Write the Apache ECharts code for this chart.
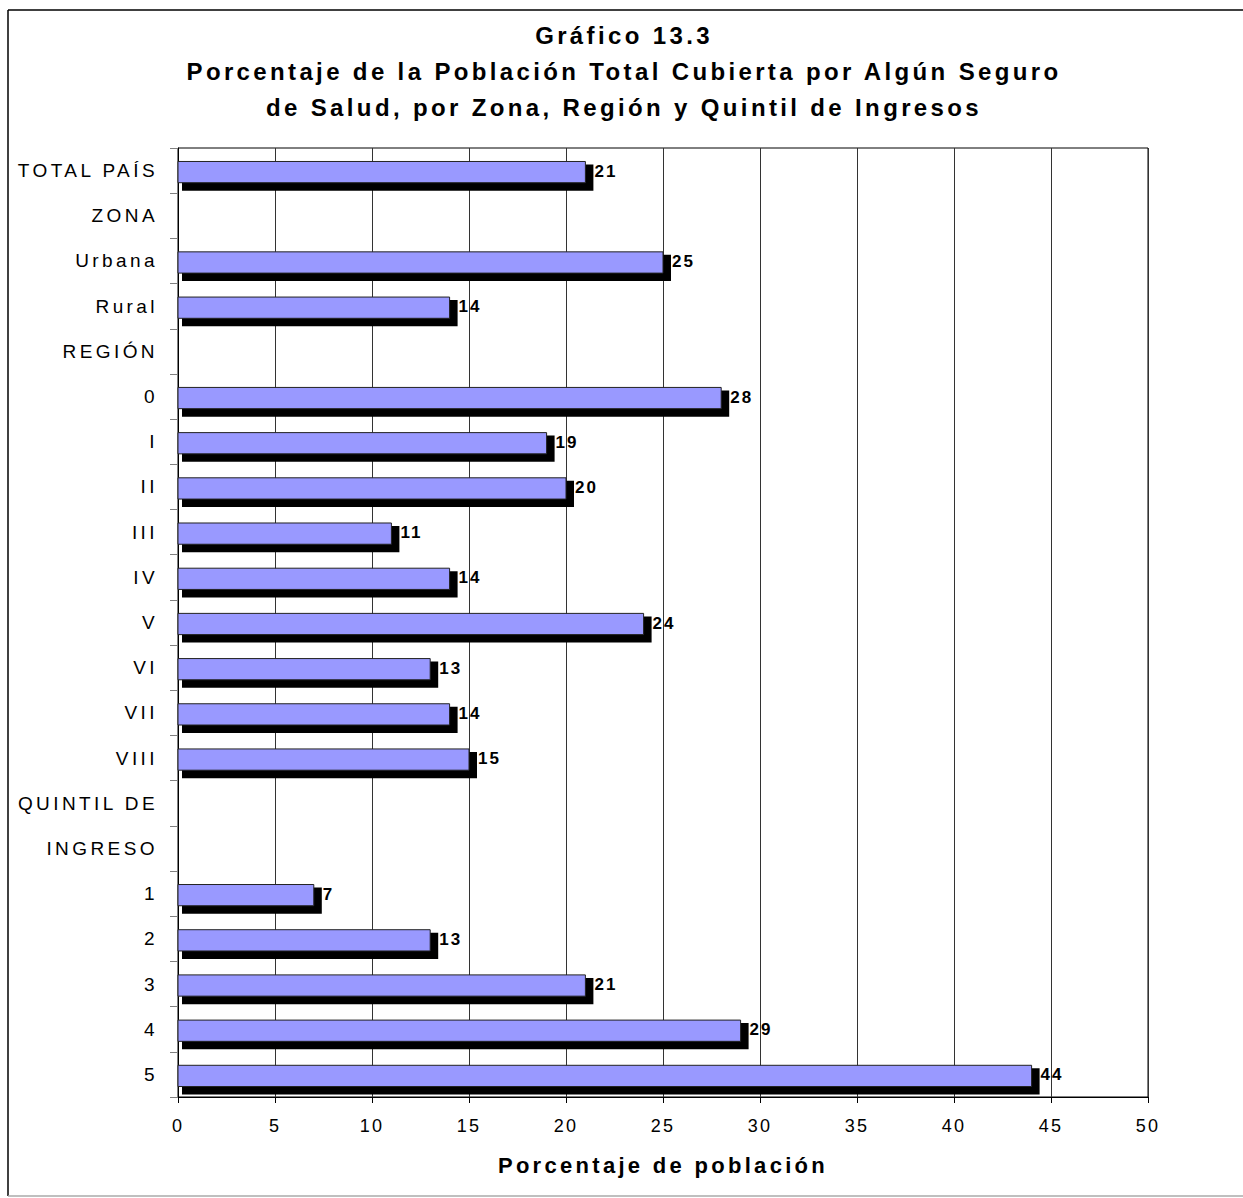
<!DOCTYPE html>
<html>
<head>
<meta charset="utf-8">
<script src="https://cdn.jsdelivr.net/npm/echarts@6/dist/echarts.min.js"></script>
<style>
html, body { margin: 0; padding: 0; background: #fff; }
#main { width: 1243px; height: 1198px; }
/* the original uses spaced-out Arial text */
#main text { letter-spacing: 0.12em; }
#main text[style*="19px"] { letter-spacing: 0.18em; }
#main text[style*="22px"] { letter-spacing: 0.15em; }
#main text[style*="24px"] { letter-spacing: 0.14em; }
</style>
</head>
<body>
<div id="main"></div>
<script>
var categories = ['TOTAL PAÍS', 'ZONA', 'Urbana', 'Rural', 'REGIÓN', '0', 'I', 'II', 'III', 'IV', 'V', 'VI', 'VII', 'VIII', 'QUINTIL DE', 'INGRESO', '1', '2', '3', '4', '5'];
var coverage = [21, null, 25, 14, null, 28, 19, 20, 11, 14, 24, 13, 14, 15, null, null, 7, 13, 21, 29, 44];
var titleLines = [
	'Gráfico 13.3',
	'Porcentaje de la Población Total Cubierta por Algún Seguro',
	'de Salud, por Zona, Región y Quintil de Ingresos'
];
var xAxisName = 'Porcentaje de población';

var font = '"Liberation Sans", Arial, sans-serif';

var barData = [];
for (var i = 0; i < categories.length; i++) {
	if (coverage[i] != null) barData.push([coverage[i], i]);
}

// bar face + black 3d depth + bold value label
function renderBar(params, api) {
	var v = api.value(0);
	var cat = api.value(1);
	var end = api.coord([v, cat]);
	var start = api.coord([0, cat]);
	var band = api.size([0, 1])[1];
	var h = band * 0.47;
	var top = end[1] - h / 2 + 1.5;
	var depth = 8;
	return {
		type: 'group',
		children: [
			{
				type: 'rect',
				shape: { x: start[0] + 4, y: top + 3, width: end[0] - start[0] + depth - 4, height: h + depth - 3 },
				style: { fill: '#000' }
			},
			{
				type: 'rect',
				shape: { x: start[0], y: top, width: end[0] - start[0], height: h },
				style: { fill: '#9999ff', stroke: '#222', lineWidth: 1 }
			},
			{
				type: 'text',
				style: {
					x: end[0] + depth + 1,
					y: top + h / 2 - 1,
					text: String(v),
					fill: '#000',
					font: 'bold 17px ' + font,
					align: 'left',
					verticalAlign: 'middle',
					textAlign: 'left',
					textVerticalAlign: 'middle'
				}
			}
		]
	};
}

// title lines, centred over the chart
var titleGraphics = titleLines.map(function (line, k) {
	return {
		type: 'text',
		x: 624,
		y: 35 + k * 36,
		style: {
			text: line,
			fill: '#000',
			font: 'bold 24px ' + font,
			align: 'center',
			verticalAlign: 'middle'
		}
	};
});

var myChart = echarts.init(document.getElementById('main'), null, { renderer: 'svg' });

var option = {
	backgroundColor: '#fff',
	animation: false,
	grid: {
		left: 178,
		right: 95,
		top: 148,
		bottom: 101,
		show: true,
		borderColor: '#000',
		borderWidth: 1,
		containLabel: false
	},
	xAxis: {
		type: 'value',
		min: 0,
		max: 50,
		interval: 5,
		name: xAxisName,
		nameLocation: 'middle',
		nameGap: 57,
		nameTextStyle: { fontFamily: font, fontSize: 22, fontWeight: 'bold', color: '#000' },
		axisLine: { show: true, lineStyle: { color: '#000', width: 1 } },
		axisTick: { show: true, length: 6, lineStyle: { color: '#000' } },
		axisLabel: { fontFamily: font, fontSize: 18, color: '#000', margin: 20 },
		splitLine: { show: true, lineStyle: { color: '#333', width: 1 } }
	},
	yAxis: {
		type: 'category',
		inverse: true,
		data: categories,
		axisLine: { show: true, lineStyle: { color: '#000', width: 1 } },
		axisTick: { show: true, length: 8, lineStyle: { color: '#808080' } },
		axisLabel: { fontFamily: font, fontSize: 19, color: '#000', margin: 20, interval: 0 },
		splitLine: { show: false }
	},
	graphic: titleGraphics.concat([
		{ type: 'line', shape: { x1: 8, y1: 10, x2: 1243, y2: 10 }, style: { stroke: '#000', lineWidth: 1.5 } },
		{ type: 'line', shape: { x1: 8, y1: 10, x2: 8, y2: 1196 }, style: { stroke: '#000', lineWidth: 1.5 } },
		{ type: 'line', shape: { x1: 8, y1: 1196, x2: 1243, y2: 1196 }, style: { stroke: '#aaa', lineWidth: 1.5 } }
	]),
	series: [
		{
			type: 'custom',
			renderItem: renderBar,
			encode: { x: 0, y: 1 },
			data: barData,
			clip: false,
			z: 3
		}
	]
};

myChart.setOption(option);
</script>
</body>
</html>
